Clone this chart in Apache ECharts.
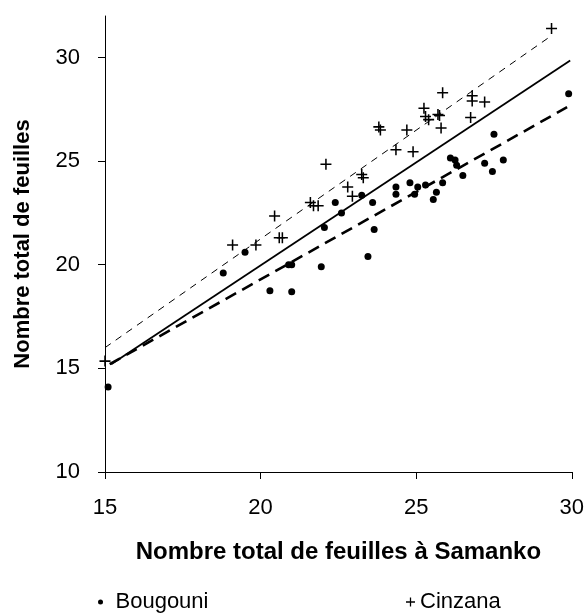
<!DOCTYPE html>
<html>
<head>
<meta charset="utf-8">
<script src="https://cdn.jsdelivr.net/npm/echarts@6/dist/echarts.min.js"></script>
<style>
  html, body { margin: 0; padding: 0; background: #fff; }
  #chart { width: 587px; height: 614px; }
</style>
</head>
<body>
<div id="chart"></div>
<script>
// Total leaf counts: Samanko (x) against the other two sites (y)
const bougouniX = [15.1, 18.8, 19.5, 20.3, 20.9, 21.0, 21.0, 21.95, 22.05, 22.4, 22.6, 23.25, 23.6, 23.65, 23.45,
                   24.35, 24.35, 24.8, 24.95, 25.05, 25.3, 25.85, 25.65, 25.55, 26.1, 26.25, 26.3, 26.5, 27.2,
                   27.45, 27.8, 27.5, 29.9];
const bougouniY = [14.1, 19.6, 20.6, 18.75, 20.0, 20.0, 18.7, 19.9, 21.8, 23.0, 22.5, 23.35, 23.0, 21.7, 20.4,
                   23.75, 23.4, 23.95, 23.4, 23.75, 23.85, 23.95, 23.5, 23.15, 25.15, 25.05, 24.8, 24.3, 24.9,
                   24.5, 25.05, 26.3, 28.25];

const cinzanaX = [15.0, 19.1, 19.85, 20.45, 20.6, 20.7, 21.6, 21.7, 21.85, 22.1, 22.8, 22.95, 23.25, 23.3, 23.8,
                  23.85, 24.35, 24.7, 24.9, 25.25, 25.3, 25.4, 25.7, 25.75, 25.8, 25.85, 26.75, 26.8, 26.8, 27.2, 29.35];
const cinzanaY = [15.35, 20.95, 20.95, 22.35, 21.3, 21.3, 23.0, 22.85, 22.85, 24.85, 23.75, 23.3, 24.35, 24.2, 26.65,
                  26.5, 25.55, 26.5, 25.45, 27.55, 27.15, 27.0, 27.25, 27.2, 26.6, 28.3, 27.1, 28.15, 27.9, 27.85, 31.4];

// Fitted lines (end points)
const fitAllX = [15.2, 29.95];
const fitAllY = [15.2, 29.85];
const fitCinzanaX = [15.0, 29.3];
const fitCinzanaY = [16.0, 31.0];
const fitBougouniX = [15.15, 29.85];
const fitBougouniY = [15.2, 27.6];

const xTicks = [15, 20, 25, 30];
const yTicks = [10, 15, 20, 25, 30];

const FONT = '"Liberation Sans", Arial, sans-serif';
const CROSS = 'path://M4.3,0H5.7V4.3H10V5.7H5.7V10H4.3V5.7H0V4.3H4.3Z';

const zip = (xs, ys) => xs.map((x, i) => [x, ys[i]]);

const chart = echarts.init(document.getElementById('chart'), null, { renderer: 'canvas' });

chart.setOption({
  animation: false,
  backgroundColor: '#ffffff',
  grid: { left: 105, top: 16, right: 14, bottom: 142 },
  xAxis: {
    type: 'value',
    min: 15, max: 30, interval: 5,
    name: 'Nombre total de feuilles à Samanko',
    nameLocation: 'middle',
    nameGap: 68,
    nameTextStyle: { fontFamily: FONT, fontSize: 24, fontWeight: 'bold', color: '#000' },
    axisLine: { lineStyle: { color: '#000', width: 1 } },
    axisTick: { show: true, length: 7, lineStyle: { color: '#000' }, customValues: xTicks },
    axisLabel: { fontFamily: FONT, fontSize: 22, color: '#000', margin: 25, customValues: xTicks },
    splitLine: { show: false }
  },
  yAxis: {
    type: 'value',
    min: 10, max: 32, interval: 5,
    name: 'Nombre total de feuilles',
    nameLocation: 'middle',
    nameGap: 71,
    nameTextStyle: { fontFamily: FONT, fontSize: 22, fontWeight: 'bold', color: '#000' },
    axisLine: { show: true, lineStyle: { color: '#000', width: 1 } },
    axisTick: { show: true, length: 7, lineStyle: { color: '#000' }, customValues: yTicks },
    axisLabel: { fontFamily: FONT, fontSize: 22, color: '#000', margin: 25, customValues: yTicks },
    splitLine: { show: false }
  },
  legend: [
    {
      left: 93, top: 586,
      itemWidth: 20, itemHeight: 5,
      data: [{ name: 'Bougouni', icon: 'circle' }],
      itemStyle: { opacity: 1 },
      textStyle: { fontFamily: FONT, fontSize: 22, color: '#000' }
    },
    {
      left: 401, top: 586,
      itemWidth: 9, itemHeight: 9,
      data: [{ name: 'Cinzana', icon: CROSS }],
      itemStyle: { opacity: 1 },
      textStyle: { fontFamily: FONT, fontSize: 22, color: '#000' }
    }
  ],
  series: [
    {
      name: 'Bougouni', type: 'scatter', clip: false,
      symbol: 'circle', symbolSize: 7,
      itemStyle: { color: '#000', opacity: 1 },
      data: zip(bougouniX, bougouniY), z: 3
    },
    {
      name: 'Cinzana', type: 'scatter', clip: false,
      symbol: CROSS, symbolSize: 11, symbolKeepAspect: true,
      itemStyle: { color: '#000', opacity: 1 },
      data: zip(cinzanaX, cinzanaY), z: 3
    },
    {
      name: 'fitAll', type: 'line', symbol: 'none', silent: true,
      lineStyle: { color: '#000', width: 1.8, type: 'solid' },
      data: zip(fitAllX, fitAllY), z: 2
    },
    {
      name: 'fitCinzana', type: 'line', symbol: 'none', silent: true,
      lineStyle: { color: '#000', width: 1, type: [7, 6] },
      data: zip(fitCinzanaX, fitCinzanaY), z: 2
    },
    {
      name: 'fitBougouni', type: 'line', symbol: 'none', silent: true,
      lineStyle: { color: '#000', width: 2.6, type: [12, 7] },
      data: zip(fitBougouniX, fitBougouniY), z: 2
    }
  ]
});
</script>
</body>
</html>
